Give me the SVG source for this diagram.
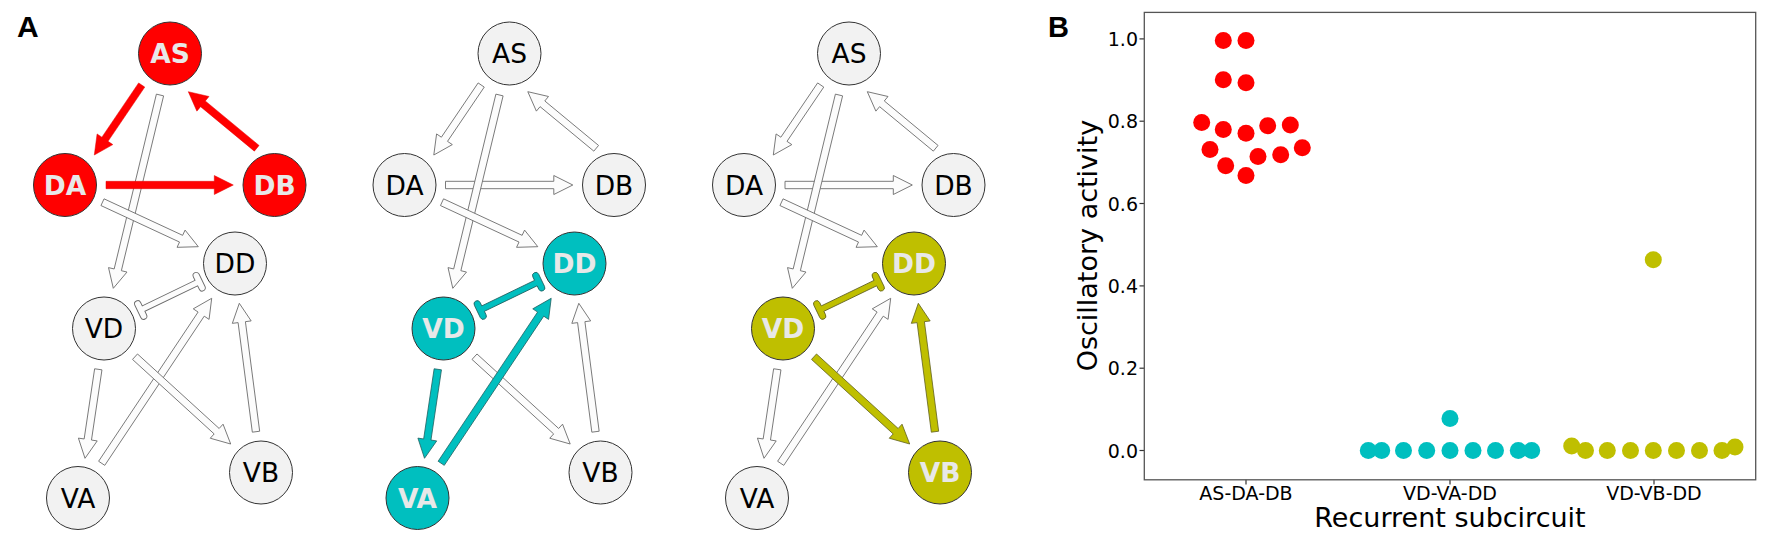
<svg xmlns="http://www.w3.org/2000/svg" width="1772" height="554" viewBox="0 0 1772 554">
<style>
.bg{fill:#ffffff}
.plab{font-family:"Liberation Sans",Arial,sans-serif;font-weight:bold;font-size:30px;fill:#000}
.nd{stroke:#333;stroke-width:1}
.off{fill:#f2f2f2}
.r{fill:#ff0000}
.c{fill:#00bfbf}
.y{fill:#bfbf00}
.lbl{font-family:"DejaVu Sans",sans-serif;font-size:26.5px;text-anchor:middle;fill:#000}
.lbl.on{font-weight:bold;fill:#e8e8e8}
.ew{fill:#fcfcfc;stroke:#6b6b6b;stroke-width:0.9;stroke-linejoin:miter}
.er{fill:#ff0000;stroke:#e00000;stroke-width:0.5}
.ec{fill:#00bfbf;stroke:#1f5f5f;stroke-width:0.8}
.ey{fill:#bfbf00;stroke:#5f5f1f;stroke-width:0.8}
.ax{fill:none;stroke:#555;stroke-width:1.3}
.tk{stroke:#333;stroke-width:1.2}
.tl{font-family:"DejaVu Sans",sans-serif;font-size:19px;fill:#000}
.al{font-family:"DejaVu Sans",sans-serif;font-size:27px;fill:#000;text-anchor:middle}
.dr{fill:#ff0000}
.dc{fill:#00bfbf}
.dy{fill:#bfbf00}
</style>
<rect class="bg" x="0" y="0" width="1772" height="554"/>
<text class="plab" x="17" y="37">A</text>
<text class="plab" x="1048" y="37" style="font-size:29px">B</text>

<!-- Panel A1: AS-DA-DB -->
<g id="panel-a1">
<g id="connectors-a1">
<path class="ew" d="M156.40,94.13 L114.16,268.96 L108.53,267.60 L113.3,288.3 L126.99,272.06 L121.36,270.70 L163.60,95.87 Z"/>
<path class="ew" d="M100.94,205.56 L179.51,242.06 L177.07,247.32 L198.3,246.7 L185.07,230.08 L182.63,235.34 L104.06,198.84 Z"/>
<path class="ew" d="M104.78,465.35 L204.24,316.16 L209.07,319.38 L211.7,298.3 L193.26,308.84 L198.08,312.06 L98.62,461.25 Z"/>
<path class="ew" d="M259.67,431.22 L245.42,321.66 L251.17,320.92 L239.3,303.3 L232.33,323.37 L238.08,322.62 L252.33,432.18 Z"/>
<path class="ew" d="M94.64,368.75 L84.15,438.96 L78.41,438.11 L85,458.3 L97.21,440.91 L91.47,440.06 L101.96,369.85 Z"/>
<path class="ew" d="M132.51,359.43 L214.17,433.93 L210.26,438.22 L230.7,444 L223.06,424.18 L219.15,428.47 L137.49,353.97 Z"/>
<path class="ew" transform="translate(140.7,310) rotate(-25.8)" d="M3.2,-3 L61.8,-3 L61.8,-6.8 A3.2,3.2 0 0 1 68.2,-6.8 L68.2,6.8 A3.2,3.2 0 0 1 61.8,6.8 L61.8,3 L3.2,3 L3.2,6.8 A3.2,3.2 0 0 1 -3.2,6.8 L-3.2,-6.8 A3.2,3.2 0 0 1 3.2,-6.8 Z"/>
<path class="er" d="M138.64,82.93 L101.89,137.20 L97.08,133.94 L94.3,155 L112.82,144.60 L108.01,141.35 L144.76,87.08 Z"/>
<path class="er" d="M259.06,145.45 L205.30,100.96 L209.00,96.49 L188.3,91.7 L196.88,111.13 L200.58,106.66 L254.34,151.15 Z"/>
<path class="er" d="M106,188.7 L214.3,188.7 L214.3,194.5 L233.3,185 L214.3,175.5 L214.3,181.3 L106,181.3 Z"/>
</g>
<g id="a1-AS"><circle class="nd r" cx="170" cy="53.5" r="31.5"/><text class="lbl on" x="170" y="63">AS</text></g>
<g id="a1-DA"><circle class="nd r" cx="65" cy="185" r="31.5"/><text class="lbl on" x="65" y="194.5">DA</text></g>
<g id="a1-DB"><circle class="nd r" cx="274.5" cy="185" r="31.5"/><text class="lbl on" x="274.5" y="194.5">DB</text></g>
<g id="a1-DD"><circle class="nd off" cx="235" cy="263.5" r="31.5"/><text class="lbl" x="235" y="273">DD</text></g>
<g id="a1-VD"><circle class="nd off" cx="104" cy="328.5" r="31.5"/><text class="lbl" x="104" y="338">VD</text></g>
<g id="a1-VA"><circle class="nd off" cx="78" cy="498" r="31.5"/><text class="lbl" x="78" y="507.5">VA</text></g>
<g id="a1-VB"><circle class="nd off" cx="261" cy="472.5" r="31.5"/><text class="lbl" x="261" y="482">VB</text></g>
</g>

<!-- Panel A2: VD-VA-DD -->
<g id="panel-a2" transform="translate(339.5,0)">
<g id="connectors-a2">
<path class="ew" d="M138.64,82.93 L101.89,137.20 L97.08,133.94 L94.3,155 L112.82,144.60 L108.01,141.35 L144.76,87.08 Z"/>
<path class="ew" d="M259.06,145.45 L205.30,100.96 L209.00,96.49 L188.3,91.7 L196.88,111.13 L200.58,106.66 L254.34,151.15 Z"/>
<path class="ew" d="M106,188.7 L214.3,188.7 L214.3,194.5 L233.3,185 L214.3,175.5 L214.3,181.3 L106,181.3 Z"/>
<path class="ew" d="M156.40,94.13 L114.16,268.96 L108.53,267.60 L113.3,288.3 L126.99,272.06 L121.36,270.70 L163.60,95.87 Z"/>
<path class="ew" d="M100.94,205.56 L179.51,242.06 L177.07,247.32 L198.3,246.7 L185.07,230.08 L182.63,235.34 L104.06,198.84 Z"/>
<path class="ew" d="M259.67,431.22 L245.42,321.66 L251.17,320.92 L239.3,303.3 L232.33,323.37 L238.08,322.62 L252.33,432.18 Z"/>
<path class="ew" d="M132.51,359.43 L214.17,433.93 L210.26,438.22 L230.7,444 L223.06,424.18 L219.15,428.47 L137.49,353.97 Z"/>
<path class="ec" transform="translate(140.7,310) rotate(-25.8)" d="M3.2,-3 L61.8,-3 L61.8,-6.8 A3.2,3.2 0 0 1 68.2,-6.8 L68.2,6.8 A3.2,3.2 0 0 1 61.8,6.8 L61.8,3 L3.2,3 L3.2,6.8 A3.2,3.2 0 0 1 -3.2,6.8 L-3.2,-6.8 A3.2,3.2 0 0 1 3.2,-6.8 Z"/>
<path class="ec" d="M94.64,368.75 L84.15,438.96 L78.41,438.11 L85,458.3 L97.21,440.91 L91.47,440.06 L101.96,369.85 Z"/>
<path class="ec" d="M104.78,465.35 L204.24,316.16 L209.07,319.38 L211.7,298.3 L193.26,308.84 L198.08,312.06 L98.62,461.25 Z"/>
</g>
<g id="a2-AS"><circle class="nd off" cx="170" cy="53.5" r="31.5"/><text class="lbl" x="170" y="63">AS</text></g>
<g id="a2-DA"><circle class="nd off" cx="65" cy="185" r="31.5"/><text class="lbl" x="65" y="194.5">DA</text></g>
<g id="a2-DB"><circle class="nd off" cx="274.5" cy="185" r="31.5"/><text class="lbl" x="274.5" y="194.5">DB</text></g>
<g id="a2-DD"><circle class="nd c" cx="235" cy="263.5" r="31.5"/><text class="lbl on" x="235" y="273">DD</text></g>
<g id="a2-VD"><circle class="nd c" cx="104" cy="328.5" r="31.5"/><text class="lbl on" x="104" y="338">VD</text></g>
<g id="a2-VA"><circle class="nd c" cx="78" cy="498" r="31.5"/><text class="lbl on" x="78" y="507.5">VA</text></g>
<g id="a2-VB"><circle class="nd off" cx="261" cy="472.5" r="31.5"/><text class="lbl" x="261" y="482">VB</text></g>
</g>

<!-- Panel A3: VD-VB-DD -->
<g id="panel-a3" transform="translate(679,0)">
<g id="connectors-a3">
<path class="ew" d="M138.64,82.93 L101.89,137.20 L97.08,133.94 L94.3,155 L112.82,144.60 L108.01,141.35 L144.76,87.08 Z"/>
<path class="ew" d="M259.06,145.45 L205.30,100.96 L209.00,96.49 L188.3,91.7 L196.88,111.13 L200.58,106.66 L254.34,151.15 Z"/>
<path class="ew" d="M106,188.7 L214.3,188.7 L214.3,194.5 L233.3,185 L214.3,175.5 L214.3,181.3 L106,181.3 Z"/>
<path class="ew" d="M156.40,94.13 L114.16,268.96 L108.53,267.60 L113.3,288.3 L126.99,272.06 L121.36,270.70 L163.60,95.87 Z"/>
<path class="ew" d="M100.94,205.56 L179.51,242.06 L177.07,247.32 L198.3,246.7 L185.07,230.08 L182.63,235.34 L104.06,198.84 Z"/>
<path class="ew" d="M104.78,465.35 L204.24,316.16 L209.07,319.38 L211.7,298.3 L193.26,308.84 L198.08,312.06 L98.62,461.25 Z"/>
<path class="ew" d="M94.64,368.75 L84.15,438.96 L78.41,438.11 L85,458.3 L97.21,440.91 L91.47,440.06 L101.96,369.85 Z"/>
<path class="ey" transform="translate(140.7,310) rotate(-25.8)" d="M3.2,-3 L61.8,-3 L61.8,-6.8 A3.2,3.2 0 0 1 68.2,-6.8 L68.2,6.8 A3.2,3.2 0 0 1 61.8,6.8 L61.8,3 L3.2,3 L3.2,6.8 A3.2,3.2 0 0 1 -3.2,6.8 L-3.2,-6.8 A3.2,3.2 0 0 1 3.2,-6.8 Z"/>
<path class="ey" d="M132.51,359.43 L214.17,433.93 L210.26,438.22 L230.7,444 L223.06,424.18 L219.15,428.47 L137.49,353.97 Z"/>
<path class="ey" d="M259.67,431.22 L245.42,321.66 L251.17,320.92 L239.3,303.3 L232.33,323.37 L238.08,322.62 L252.33,432.18 Z"/>
</g>
<g id="a3-AS"><circle class="nd off" cx="170" cy="53.5" r="31.5"/><text class="lbl" x="170" y="63">AS</text></g>
<g id="a3-DA"><circle class="nd off" cx="65" cy="185" r="31.5"/><text class="lbl" x="65" y="194.5">DA</text></g>
<g id="a3-DB"><circle class="nd off" cx="274.5" cy="185" r="31.5"/><text class="lbl" x="274.5" y="194.5">DB</text></g>
<g id="a3-DD"><circle class="nd y" cx="235" cy="263.5" r="31.5"/><text class="lbl on" x="235" y="273">DD</text></g>
<g id="a3-VD"><circle class="nd y" cx="104" cy="328.5" r="31.5"/><text class="lbl on" x="104" y="338">VD</text></g>
<g id="a3-VA"><circle class="nd off" cx="78" cy="498" r="31.5"/><text class="lbl" x="78" y="507.5">VA</text></g>
<g id="a3-VB"><circle class="nd y" cx="261" cy="472.5" r="31.5"/><text class="lbl on" x="261" y="482">VB</text></g>
</g>

<!-- Panel B -->
<g id="panel-b">
<g id="y-ticks">
<line class="tk" x1="1139.5" y1="38.9" x2="1144.3" y2="38.9"/>
<line class="tk" x1="1139.5" y1="121.2" x2="1144.3" y2="121.2"/>
<line class="tk" x1="1139.5" y1="203.5" x2="1144.3" y2="203.5"/>
<line class="tk" x1="1139.5" y1="285.9" x2="1144.3" y2="285.9"/>
<line class="tk" x1="1139.5" y1="368.2" x2="1144.3" y2="368.2"/>
<line class="tk" x1="1139.5" y1="450.5" x2="1144.3" y2="450.5"/>
<text class="tl" x="1138" y="45.9" text-anchor="end">1.0</text>
<text class="tl" x="1138" y="128.2" text-anchor="end">0.8</text>
<text class="tl" x="1138" y="210.5" text-anchor="end">0.6</text>
<text class="tl" x="1138" y="292.9" text-anchor="end">0.4</text>
<text class="tl" x="1138" y="375.2" text-anchor="end">0.2</text>
<text class="tl" x="1138" y="457.5" text-anchor="end">0.0</text>
</g>
<g id="x-ticks">
<line class="tk" x1="1246" y1="479.8" x2="1246" y2="484.6"/>
<line class="tk" x1="1450" y1="479.8" x2="1450" y2="484.6"/>
<line class="tk" x1="1654" y1="479.8" x2="1654" y2="484.6"/>
<text class="tl" x="1246" y="500" text-anchor="middle">AS-DA-DB</text>
<text class="tl" x="1450" y="500" text-anchor="middle">VD-VA-DD</text>
<text class="tl" x="1654" y="500" text-anchor="middle">VD-VB-DD</text>
</g>
<text class="al" x="1450" y="527">Recurrent subcircuit</text>
<text class="al" transform="translate(1097,245.6) rotate(-90)">Oscillatory activity</text>
<g id="dots-red">
<circle class="dr" cx="1223.3" cy="40.6" r="8.5"/>
<circle class="dr" cx="1246" cy="40.6" r="8.5"/>
<circle class="dr" cx="1223.3" cy="79.8" r="8.5"/>
<circle class="dr" cx="1246" cy="82.7" r="8.5"/>
<circle class="dr" cx="1201.7" cy="122.6" r="8.5"/>
<circle class="dr" cx="1223.3" cy="129.6" r="8.5"/>
<circle class="dr" cx="1246" cy="133.2" r="8.5"/>
<circle class="dr" cx="1267.7" cy="125.8" r="8.5"/>
<circle class="dr" cx="1290.3" cy="125.1" r="8.5"/>
<circle class="dr" cx="1210" cy="149.5" r="8.5"/>
<circle class="dr" cx="1225.7" cy="165.7" r="8.5"/>
<circle class="dr" cx="1246" cy="175.6" r="8.5"/>
<circle class="dr" cx="1258" cy="156.6" r="8.5"/>
<circle class="dr" cx="1280.7" cy="154.8" r="8.5"/>
<circle class="dr" cx="1302.3" cy="147.7" r="8.5"/>
</g>
<g id="dots-teal">
<circle class="dc" cx="1450" cy="418.6" r="8.5"/>
<circle class="dc" cx="1368.3" cy="450.5" r="8.5"/>
<circle class="dc" cx="1381.7" cy="450.5" r="8.5"/>
<circle class="dc" cx="1403.5" cy="450.5" r="8.5"/>
<circle class="dc" cx="1426.7" cy="450.5" r="8.5"/>
<circle class="dc" cx="1450" cy="450.5" r="8.5"/>
<circle class="dc" cx="1473" cy="450.5" r="8.5"/>
<circle class="dc" cx="1495.5" cy="450.5" r="8.5"/>
<circle class="dc" cx="1518.3" cy="450.5" r="8.5"/>
<circle class="dc" cx="1531.7" cy="450.5" r="8.5"/>
</g>
<g id="dots-olive">
<circle class="dy" cx="1653.3" cy="259.7" r="8.5"/>
<circle class="dy" cx="1571.7" cy="446" r="8.5"/>
<circle class="dy" cx="1585.5" cy="450.5" r="8.5"/>
<circle class="dy" cx="1607.3" cy="450.5" r="8.5"/>
<circle class="dy" cx="1630.5" cy="450.5" r="8.5"/>
<circle class="dy" cx="1653.3" cy="450.5" r="8.5"/>
<circle class="dy" cx="1676.5" cy="450.5" r="8.5"/>
<circle class="dy" cx="1699.5" cy="450.5" r="8.5"/>
<circle class="dy" cx="1722" cy="450.5" r="8.5"/>
<circle class="dy" cx="1735" cy="447" r="8.5"/>
</g>
<rect class="ax" x="1144.3" y="12.4" width="611.4" height="467.4"/>
</g>
</svg>
